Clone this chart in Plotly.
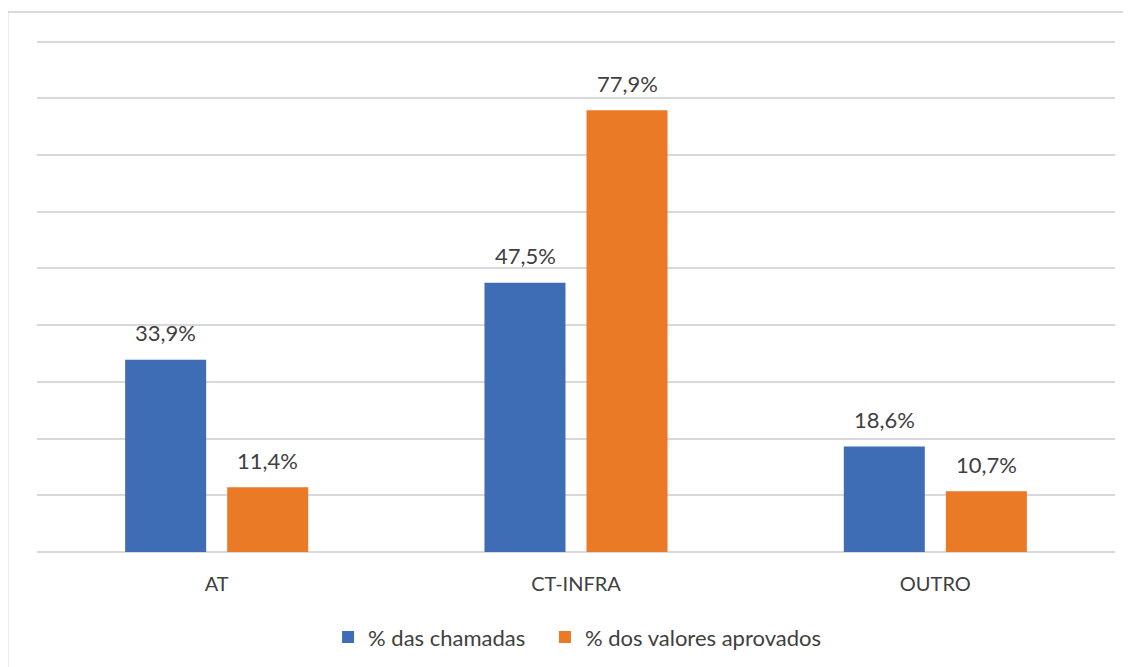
import plotly.graph_objects as go

categories = ["AT", "CT-INFRA", "OUTRO"]
series_names = ["% das chamadas", "% dos valores aprovados"]
chamadas = [33.9, 47.5, 18.6]
valores = [11.4, 77.9, 10.7]
colors = ["#3F6DB5", "#EB7A27"]

FONT = "Lato"
TXT = "#404040"

fig = go.Figure()
for name, vals, col, lg in zip(series_names, [chamadas, valores], colors, ["legend", "legend2"]):
    fig.add_trace(go.Bar(name=name, x=categories, y=vals, legend=lg,
                         marker=dict(color=col, line=dict(width=0))))

# data labels
for vals, xs in [(chamadas, -51), (valores, 51)]:
    for c, v in zip(categories, vals):
        fig.add_annotation(x=c, y=v, xref="x", yref="y", text=f"{v:.1f}%".replace(".", ","),
                           showarrow=False, xshift=xs, yshift=27, yanchor="middle",
                           font=dict(family=FONT, size=22, color=TXT))

# outer chart border (partially out of view, as in reference)
fig.add_shape(type="rect", xref="paper", yref="paper", x0=-0.0274, x1=1.2, y0=-0.5, y1=1.0465,
              line=dict(color="#d9d9d9", width=2), layer="below")

legfont = dict(family=FONT, size=22, color=TXT)
fig.update_layout(
    width=1123, height=659,
    margin=dict(l=29, r=16, t=28, b=115, autoexpand=False),
    paper_bgcolor="white", plot_bgcolor="white",
    barmode="group", bargap=0.432, bargroupgap=0.206,
    font=dict(family=FONT, size=21, color=TXT),
    showlegend=True,
    legend=dict(orientation="h", x=0.270, xanchor="left", y=-0.165, yanchor="middle", font=legfont),
    legend2=dict(orientation="h", x=0.4712, xanchor="left", y=-0.165, yanchor="middle", font=legfont),
    xaxis=dict(showgrid=False, showline=False, ticks="", ticklabelstandoff=18, automargin=False,
               tickfont=dict(family=FONT, size=20, color=TXT)),
    yaxis=dict(range=[0, 91], dtick=10, showgrid=True, gridcolor="#d9d9d9", gridwidth=1.5,
               showticklabels=False, zeroline=True, zerolinecolor="#d9d9d9", zerolinewidth=1.5,
               showline=False, automargin=False),
)
fig.write_html("out.html")
